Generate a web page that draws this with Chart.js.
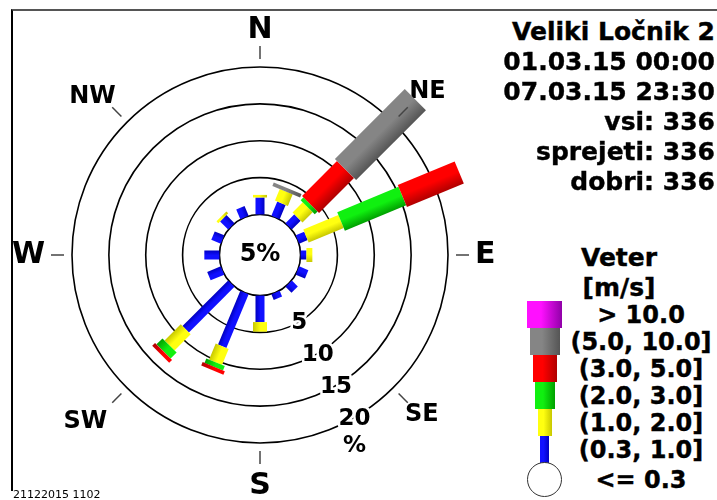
<!DOCTYPE html>
<html>
<head>
<meta charset="utf-8">
<script src="https://cdn.jsdelivr.net/npm/chart.js@4.4.1/dist/chart.umd.min.js"></script>
<style>
  html, body { margin: 0; padding: 0; background: #fff; }
  body { width: 717px; height: 500px; position: relative; overflow: hidden; font-family: 'DejaVu Sans', sans-serif; color: #000; }
  #frame { position: absolute; left: 11px; top: 9px; width: 720px; height: 480px; border-left: 2px solid #000; border-top: 2px solid #555; }
  #wrap { position: absolute; left: 0; top: 0; width: 508px; height: 510px; }
  .info { position: absolute; right: 2px; font-weight: bold; font-size: 25px; line-height: 30px; text-align: right; white-space: nowrap; -webkit-text-stroke: 0.4px #000; }
  .lg { position: absolute; font-weight: bold; line-height: 30px; text-align: center; white-space: nowrap; width: 200px; -webkit-text-stroke: 0.4px #000; }
  .sw { position: absolute; box-sizing: border-box; }
  #stamp { position: absolute; left: 13px; top: 488px; font-size: 11px; line-height: 14px; font-family: 'DejaVu Sans', sans-serif; }
</style>
</head>
<body>
<div id="frame"></div>
<div id="wrap"><canvas id="rose" width="508" height="510"></canvas></div>
<div id="panel"></div>
<div id="stamp">21122015 1102</div>
<script>
// wind directions (16 sectors, clockwise from north)
const directions = ['N', 'NNE', 'NE', 'ENE', 'E', 'ESE', 'SE', 'SSE', 'S', 'SSW', 'SW', 'WSW', 'W', 'WNW', 'NW', 'NNW'];
const speedClasses = ['(0.3, 1.0]', '(1.0, 2.0]', '(2.0, 3.0]', '(3.0, 5.0]', '(5.0, 10.0]', '> 10.0'];
const calmLabel = '<= 0.3';
const calmPercent = 5;
const ringTicks = [5, 10, 15, 20];

// frequency [%] per direction for each speed class
const speed03to1 = [2.3, 2.1, 1.7, 1.25, 0.8, 1.35, 1.15, 0.85, 3.6, 7.9, 8.75, 2.0, 2.05, 1.4, 1.55, 1.45];
const speed1to2  = [0.35, 1.7, 1.95, 5.15, 0.8, 0, 0, 0, 1.3, 2.35, 3.1, 0, 0, 0, 0.35, 0];
const speed2to3  = [0, 0, 0.55, 9.0, 0, 0, 0, 0, 0, 0.65, 1.15, 0, 0, 0, 0, 0];
const speed3to5  = [0, 0, 6.7, 8.35, 0, 0, 0, 0, 0, 0.5, 0.55, 0, 0, 0, 0, 0];
const speed5to10 = [0, 0.5, 13.4, 0, 0, 0, 0, 0, 0, 0, 0, 0, 0, 0, 0, 0];
const speedOver10 = [0, 0, 0, 0, 0, 0, 0, 0, 0, 0, 0, 0, 0, 0, 0, 0];

const infoLines = ['Veliki Ločnik 2', '01.03.15 00:00', '07.03.15 23:30', 'vsi: 336', 'sprejeti: 336', 'dobri: 336'];
const legendTitle = ['Veter', '[m/s]'];

const lightColors = ['#1010ff', '#ffff10', '#10f010', '#ff0000', '#858585', '#ff10ff'];
const darkColors  = ['#0000c0', '#c8c800', '#00a000', '#b00000', '#555555', '#9000a8'];
const barWidths = [9, 14, 20, 24, 30, 35];
// label gap per compass point (N, NE, E, SE, S, SW, W, NW)
const labelPad = [19, 23, 27, 17, 25, 28, 27, 16];

const series = [speed03to1, speed1to2, speed2to3, speed3to5, speed5to10, speedOver10];

const windRose = {
  id: 'windRose',
  afterDatasetsDraw(chart) {
    const r = chart.scales.r;
    const ctx = chart.ctx;
    ctx.save();
    ctx.translate(r.xCenter, r.yCenter);
    directions.forEach((d, i) => {
      let base = 0;
      ctx.save();
      ctx.rotate(r.getIndexAngle(i));
      chart.data.datasets.forEach((ds, k) => {
        const v = ds.data[i];
        if (!v) return;
        const r0 = r.getDistanceFromCenterForValue(base);
        const r1 = r.getDistanceFromCenterForValue(base + v);
        base += v;
        const w = barWidths[k];
        const g = ctx.createLinearGradient(-w / 2, 0, w / 2, 0);
        g.addColorStop(0, lightColors[k]);
        g.addColorStop(0.45, lightColors[k]);
        g.addColorStop(1, darkColors[k]);
        ctx.fillStyle = g;
        ctx.fillRect(-w / 2, -r1, w, r1 - r0);
      });
      ctx.restore();
    });
    ctx.restore();
  },
  afterDraw(chart) {
    const r = chart.scales.r;
    const ctx = chart.ctx;
    const R = r.drawingArea;
    ctx.save();
    // direction ticks
    ctx.strokeStyle = '#444';
    ctx.lineWidth = 1.5;
    directions.forEach((d, i) => {
      if (i % 2) return;
      const a = r.getIndexAngle(i);
      ctx.beginPath();
      ctx.moveTo(r.xCenter + (R + 8) * Math.sin(a), r.yCenter - (R + 8) * Math.cos(a));
      ctx.lineTo(r.xCenter + (R + 21) * Math.sin(a), r.yCenter - (R + 21) * Math.cos(a));
      ctx.stroke();
    });
    // ring labels
    ctx.font = 'bold 23px "DejaVu Sans"';
    ctx.textAlign = 'center';
    ctx.textBaseline = 'middle';
    ctx.lineJoin = 'round';
    const th = 150 * Math.PI / 180;
    let lx = 0, ly = 0;
    ringTicks.forEach(v => {
      const dist = r.getDistanceFromCenterForValue(v) + 1;
      lx = r.xCenter + dist * Math.sin(th);
      ly = r.yCenter - dist * Math.cos(th);
      ctx.strokeStyle = '#fff';
      ctx.lineWidth = 5;
      ctx.strokeText(String(v), lx, ly);
      ctx.fillStyle = '#000';
      ctx.fillText(String(v), lx, ly);
    });
    ctx.fillText('%', lx, ly + 27);
    // calm in the middle
    ctx.font = 'bold 24px "DejaVu Sans"';
    ctx.fillText(calmPercent + '%', r.xCenter, r.yCenter);
    ctx.restore();
  }
};

new Chart(document.getElementById('rose'), {
  type: 'radar',
  data: {
    labels: directions,
    datasets: series.map((s, k) => ({
      label: speedClasses[k],
      data: s,
      showLine: false,
      fill: false,
      pointRadius: 0,
      pointHoverRadius: 0,
      borderWidth: 0
    }))
  },
  options: {
    responsive: false,
    animation: false,
    devicePixelRatio: 1,
    events: [],
    layout: { padding: { top: 9, bottom: 3, left: 0, right: 0 } },
    plugins: { legend: { display: false }, tooltip: { enabled: false } },
    scales: {
      r: {
        min: -5.5,
        max: 20,
        ticks: { display: false, stepSize: 5 },
        angleLines: { display: false },
        grid: {
          circular: true,
          color: (c) => (c.tick && c.tick.value < 0 ? 'rgba(0,0,0,0)' : '#000'),
          lineWidth: 1.6
        },
        pointLabels: {
          display: true,
          color: '#000',
          callback: (label, i) => (i % 2 === 0 ? label : ''),
          font: (c) => ({ family: 'DejaVu Sans', weight: 'bold', size: c.index % 4 === 0 ? 30 : (c.index % 2 === 0 ? 24 : 8) }),
          padding: (c) => (c.index % 2 === 0 ? labelPad[c.index / 2] : 20)
        }
      }
    }
  },
  plugins: [windRose]
});

// right-hand panel: station info and legend
const panel = document.getElementById('panel');
infoLines.forEach((t, i) => {
  const el = document.createElement('div');
  el.className = 'info';
  el.style.top = (17 + i * 30) + 'px';
  el.textContent = t;
  panel.appendChild(el);
});
legendTitle.forEach((t, i) => {
  const el = document.createElement('div');
  el.className = 'lg';
  el.style.fontSize = '25px';
  el.style.left = '519px';
  el.style.top = (243 + i * 30) + 'px';
  el.textContent = t;
  panel.appendChild(el);
});
speedClasses.forEach((t, k) => {
  const top = 301 + (speedClasses.length - 1 - k) * 27;
  const w = barWidths[k];
  const sw = document.createElement('div');
  sw.className = 'sw';
  sw.style.left = (544.5 - w / 2) + 'px';
  sw.style.top = top + 'px';
  sw.style.width = w + 'px';
  sw.style.height = '27px';
  sw.style.background = `linear-gradient(to right, ${lightColors[k]} 0%, ${lightColors[k]} 40%, ${darkColors[k]} 100%)`;
  panel.appendChild(sw);
  const el = document.createElement('div');
  el.className = 'lg';
  el.style.fontSize = '24px';
  el.style.left = '541px';
  el.style.top = (top + 13.5 - 14.5) + 'px';
  el.textContent = t;
  panel.appendChild(el);
});
const calmDot = document.createElement('div');
calmDot.className = 'sw';
Object.assign(calmDot.style, { left: '527px', top: '462px', width: '35px', height: '35px', borderRadius: '50%', border: '1.5px solid #333', background: '#fff' });
panel.appendChild(calmDot);
const calmText = document.createElement('div');
calmText.className = 'lg';
calmText.style.fontSize = '24px';
calmText.style.left = '541px';
calmText.style.top = (479.5 - 14.5) + 'px';
calmText.textContent = calmLabel;
panel.appendChild(calmText);
</script>
</body>
</html>
